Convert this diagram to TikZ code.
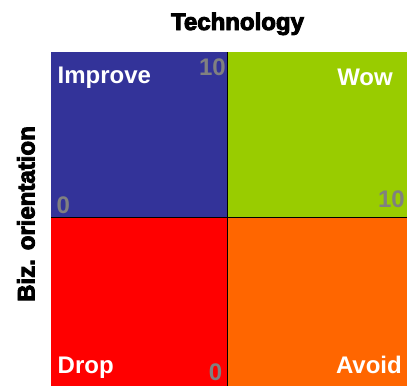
\documentclass[tikz,border=0pt]{standalone}
\usepackage{fontspec}
\setmainfont{Liberation Sans}
\newfontfamily\heavyfont[FakeBold=4]{Liberation Sans Bold}
\definecolor{qblue}{HTML}{333399}
\definecolor{qgreen}{HTML}{99CC00}
\definecolor{qred}{HTML}{FF0000}
\definecolor{qorange}{HTML}{FF6600}
\definecolor{scalegray}{HTML}{808080}
\begin{document}
\begin{tikzpicture}[x=1pt,y=-1pt,
  quadlabel/.style={inner sep=0pt,text=white,font=\fontsize{24}{24}\selectfont\bfseries},
  scalelabel/.style={inner sep=0pt,text=scalegray,font=\fontsize{24}{24}\selectfont\bfseries},
  axislabel/.style={inner sep=0pt,text=black,font=\fontsize{24}{24}\selectfont\heavyfont},
  divider/.style={black,line width=1pt}]
\useasboundingbox (0,0) rectangle (407,386);
% quadrant fills
\fill[qblue]   (51,52)    rectangle (227.5,217);
\fill[qgreen]  (227.5,52) rectangle (407,217);
\fill[qred]    (51,217)   rectangle (227.5,386);
\fill[qorange] (227.5,217) rectangle (407,386);
% dividing lines
\coordinate (vtop) at (227.5,52);
\coordinate (vbot) at (227.5,386);
\coordinate (hleft) at (51,217);
\coordinate (hright) at (407,217);
\draw[divider] (vtop) -- (vbot);
\draw[divider] (hleft) -- (hright);
% axis titles
\node[axislabel,anchor=base] (tech) at (237.5,30) {Technology};
\node[axislabel,anchor=base,rotate=90] (biz) at (34.5,214) {Biz. orientation};
% quadrant names
\node[quadlabel,anchor=base west] (improve) at (57.5,83) {Improve};
\node[quadlabel,anchor=base east] (wow) at (393,85) {Wow};
\node[quadlabel,anchor=base west] (drop) at (57.5,373) {Drop};
\node[quadlabel,anchor=base east] (avoid) at (402,373) {Avoid};
% scale marks
\node[scalelabel,anchor=base east] (tten) at (226,75) {10};
\node[scalelabel,anchor=base west] (lzero) at (56.5,213) {0};
\node[scalelabel,anchor=base east] (rten) at (405,207) {10};
\node[scalelabel,anchor=base east] (bzero) at (222.5,380) {0};
\end{tikzpicture}
\end{document}
